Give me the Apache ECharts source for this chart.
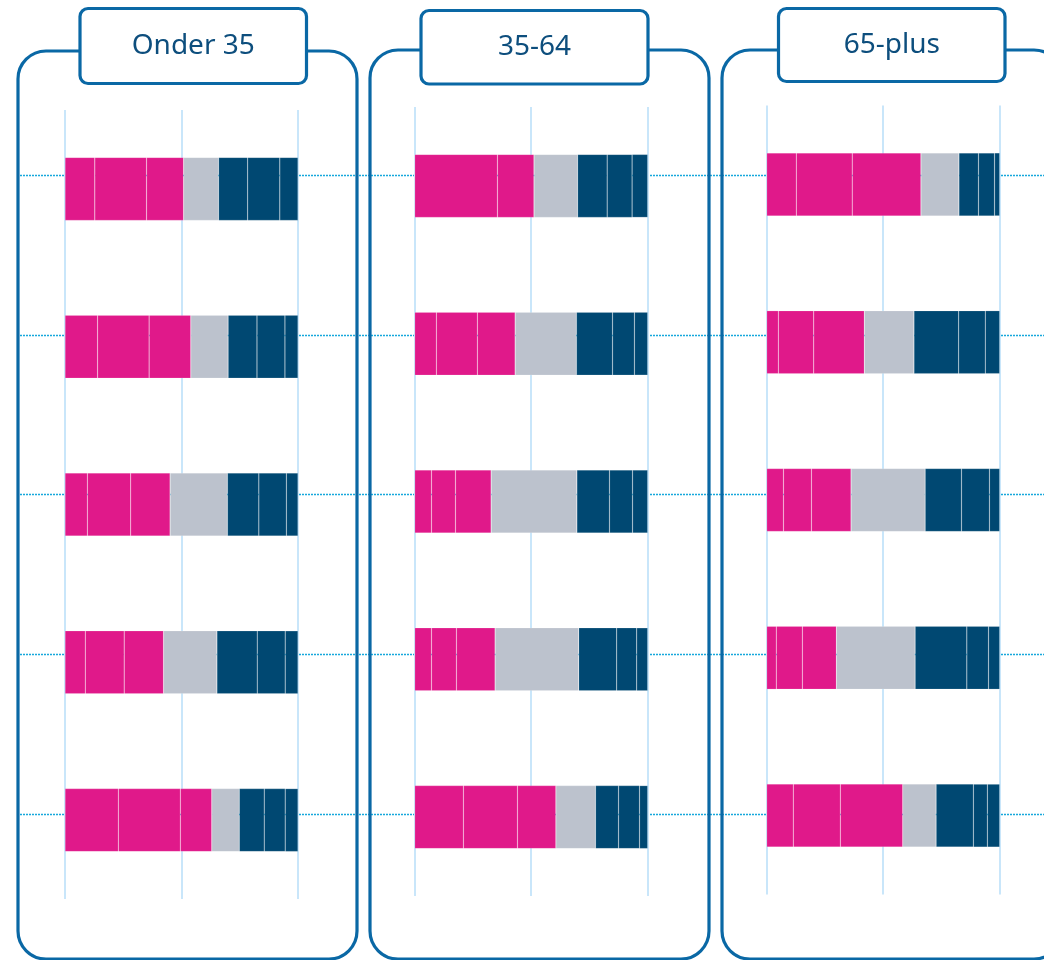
<!DOCTYPE html>
<html>
<head>
<meta charset="utf-8">
<script src="https://cdn.jsdelivr.net/npm/echarts@6/dist/echarts.min.js"></script>
<style>
html,body{margin:0;padding:0;background:#fff;}
#c{width:1044px;height:960px;}
</style>
</head>
<body>
<div id="c"></div>
<script>
// Panel titles
const panelTitles = ['Onder 35', '35-64', '65-plus'];
// Row categories (5 statements, unlabeled in the picture)
const rows = ['1', '2', '3', '4', '5'];
// Segment shares (%) per row: 3 positive, neutral, 3 negative
const onder35 = [
  [12.8, 22.2, 15.9, 15.0, 12.5, 13.8, 7.8],
  [14.0, 22.1, 17.9, 16.0, 12.4, 12.0, 5.6],
  [9.6, 18.6, 16.9, 24.6, 13.5, 11.8, 5.0],
  [8.7, 16.7, 16.9, 22.9, 17.3, 12.0, 5.5],
  [22.9, 26.6, 13.5, 11.8, 10.7, 9.0, 5.5]
];
const age35to64 = [
  [0, 35.5, 15.7, 18.7, 12.7, 10.7, 6.7],
  [9.3, 17.6, 16.2, 26.3, 15.5, 9.4, 5.7],
  [7.2, 10.3, 15.3, 36.8, 14.0, 9.9, 6.5],
  [7.2, 10.7, 16.6, 35.9, 16.3, 8.6, 4.7],
  [20.9, 23.2, 16.5, 17.0, 9.9, 9.0, 3.5]
];
const age65plus = [
  [12.7, 24.0, 29.5, 16.3, 8.4, 6.9, 2.2],
  [5.0, 15.2, 21.7, 21.3, 19.2, 11.4, 6.2],
  [7.2, 12.0, 17.0, 31.8, 15.6, 12.0, 4.4],
  [4.1, 11.2, 14.6, 33.8, 22.2, 9.3, 4.8],
  [11.4, 20.2, 26.8, 14.3, 16.0, 6.0, 5.3]
];
const xTicks = [0, 50, 100];

const panelsData = [onder35, age35to64, age65plus];
const segColors = ['#e0198a', '#e0198a', '#e0198a', '#bcc2cd', '#004872', '#004872', '#004872'];
const segBorder = 'rgba(255,255,255,0.3)';

const frameColor = '#0a68a5';
const textColor = '#0d4e7d';

const gridPos = [
  {left: 65, top: 110, width: 233, height: 789},
  {left: 414.7, top: 107, width: 233, height: 789},
  {left: 766.7, top: 105.5, width: 233, height: 789}
];

const grids = [{left: 20, right: 0, top: 175, height: 639}];
const xAxes = [{gridIndex: 0, type: 'value', show: false, min: 0, max: 1}];
const yAxes = [{
  gridIndex: 0, type: 'value', min: 0, max: 4, interval: 1,
  axisLine: {show: false}, axisTick: {show: false}, axisLabel: {show: false},
  splitLine: {show: true, lineStyle: {color: '#17a8dc', type: [2, 1], width: 1.4}}
}];
const series = [];

panelsData.forEach((data, p) => {
  const gi = p + 1;
  grids.push(Object.assign({}, gridPos[p]));
  xAxes.push({
    gridIndex: gi, type: 'value', min: xTicks[0], max: xTicks[xTicks.length - 1], interval: xTicks[1] - xTicks[0],
    axisLine: {show: false}, axisTick: {show: false}, axisLabel: {show: false},
    splitLine: {show: true, lineStyle: {color: '#c9e6fa', width: 2}}
  });
  yAxes.push({
    gridIndex: gi, type: 'category', data: rows, inverse: true,
    axisLine: {show: false}, axisTick: {show: false}, axisLabel: {show: false},
    splitLine: {show: false}
  });
  for (let s = 0; s < 7; s++) {
    series.push({
      type: 'bar',
      xAxisIndex: gi, yAxisIndex: gi,
      stack: 'p' + p,
      barWidth: 63,
      silent: true,
      itemStyle: {color: segColors[s], borderColor: segBorder, borderWidth: 0.5},
      data: data.map(r => r[s])
    });
  }
});

const frames = [
  {x: 18, y: 51, w: 339, h: 908},
  {x: 370, y: 50, w: 339, h: 909},
  {x: 722, y: 50, w: 340, h: 909}
];
const boxes = [
  {x: 80, y: 8.5, w: 226.5, h: 75},
  {x: 421, y: 10.5, w: 227, h: 73.5},
  {x: 778.5, y: 8.5, w: 226.5, h: 73}
];
const graphics = [];
frames.forEach(f => graphics.push({
  type: 'rect', z: 10, silent: true,
  shape: {x: f.x, y: f.y, width: f.w, height: f.h, r: 28},
  style: {fill: 'none', stroke: frameColor, lineWidth: 3.2}
}));
boxes.forEach((b, i) => {
  graphics.push({
    type: 'rect', z: 11, silent: true,
    shape: {x: b.x, y: b.y, width: b.w, height: b.h, r: 8},
    style: {fill: '#fff', stroke: frameColor, lineWidth: 3.2}
  });
  graphics.push({
    type: 'text', z: 12, silent: true,
    x: b.x + b.w / 2, y: b.y + b.h / 2,
    style: {text: panelTitles[i], fill: textColor, font: '28px "Noto Sans"', textAlign: 'center', textVerticalAlign: 'middle'}
  });
});

const chart = echarts.init(document.getElementById('c'), null, {renderer: 'canvas'});
chart.setOption({
  animation: false,
  backgroundColor: '#fff',
  grid: grids,
  xAxis: xAxes,
  yAxis: yAxes,
  series: series,
  graphic: graphics
});
</script>
</body>
</html>
